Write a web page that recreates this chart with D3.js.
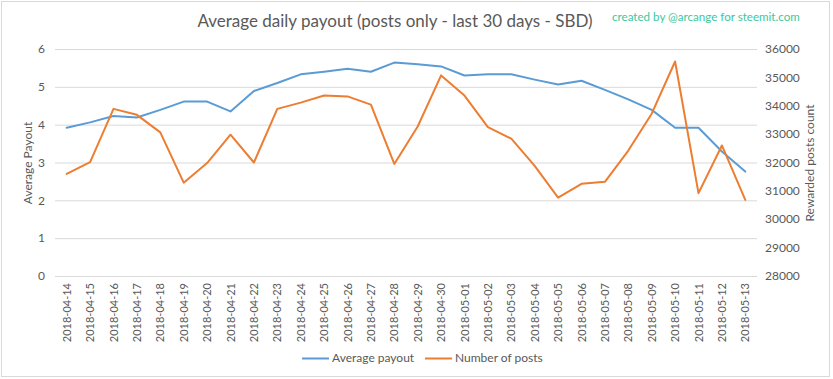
<!DOCTYPE html>
<html><head><meta charset="utf-8">
<script src="https://cdn.jsdelivr.net/npm/d3@7"></script>
<style>body{margin:0;background:#fff}svg{display:block}text{font-family:Lato,"Open Sans",sans-serif}</style>
</head><body>
<svg id="c" width="833" height="379"></svg>
<script>
const dates = ["2018-04-14","2018-04-15","2018-04-16","2018-04-17","2018-04-18","2018-04-19","2018-04-20","2018-04-21","2018-04-22","2018-04-23","2018-04-24","2018-04-25","2018-04-26","2018-04-27","2018-04-28","2018-04-29","2018-04-30","2018-05-01","2018-05-02","2018-05-03","2018-05-04","2018-05-05","2018-05-06","2018-05-07","2018-05-08","2018-05-09","2018-05-10","2018-05-11","2018-05-12","2018-05-13"];
const avgPayout = [3.92,4.06,4.23,4.19,4.39,4.61,4.61,4.35,4.89,5.10,5.33,5.40,5.48,5.40,5.64,5.60,5.54,5.30,5.33,5.33,5.19,5.06,5.16,4.92,4.67,4.39,3.92,3.92,3.29,2.76];
const numPosts = [31600,32010,33890,33680,33060,31290,31980,32980,32000,33890,34110,34360,34330,34040,31950,33270,35070,34360,33250,32840,31880,30760,31250,31320,32420,33720,35560,30920,32600,30680];
const leftTicks = [0,1,2,3,4,5,6];
const rightTicks = [28000,29000,30000,31000,32000,33000,34000,35000,36000];

const svg = d3.select("#c");
const gray = "#595959";
svg.append("rect").attr("x",1.5).attr("y",1.5).attr("width",828).attr("height",375).attr("fill","#fff").attr("stroke","#d9d9d9");

const x = d3.scaleBand().domain(dates).range([55,757]);
const yL = d3.scaleLinear().domain([0,6]).range([276,49]);
const yR = d3.scaleLinear().domain([28000,36000]).range([276,49]);

// gridlines
svg.append("g").selectAll("line").data(leftTicks).join("line")
  .attr("x1",55).attr("x2",757).attr("y1",d=>yL(d)+0.5).attr("y2",d=>yL(d)+0.5)
  .attr("stroke","#d9d9d9").attr("stroke-width",1);

// left axis labels
svg.append("g").selectAll("text").data(leftTicks).join("text")
  .attr("x",45).attr("y",d=>yL(d)).attr("dy","0.35em").attr("text-anchor","end")
  .attr("fill",gray).attr("font-size",12).text(d=>d);
// right axis labels
svg.append("g").selectAll("text").data(rightTicks).join("text")
  .attr("x",765).attr("y",d=>yR(d)).attr("dy","0.35em").attr("text-anchor","start")
  .attr("fill",gray).attr("font-size",12).text(d=>d);

// x labels
svg.append("g").selectAll("text").data(dates).join("text")
  .attr("transform",d=>`translate(${x(d)+x.bandwidth()/2+4},283) rotate(-90)`)
  .attr("text-anchor","end").attr("fill",gray).attr("font-size",11).text(d=>d);

// axis titles
svg.append("text").attr("transform","translate(32,163) rotate(-90)").attr("text-anchor","middle")
  .attr("fill",gray).attr("font-size",12).text("Average Payout");
svg.append("text").attr("transform","translate(814,163) rotate(-90)").attr("text-anchor","middle")
  .attr("fill",gray).attr("font-size",12).text("Rewarded posts  count");

// title
svg.append("text").attr("x",395).attr("y",27).attr("text-anchor","middle").attr("fill",gray)
  .attr("font-size",17).text("Average daily payout (posts only - last 30 days - SBD)");
svg.append("text").attr("x",612).attr("y",21).attr("text-anchor","start").attr("fill","#3cc8a0")
  .attr("font-size",11.6).text("created by @arcange for steemit.com");

const cx = d=>x(d)+x.bandwidth()/2;
svg.append("path").datum(avgPayout).attr("fill","none").attr("stroke","#5b9bd5").attr("stroke-width",2)
  .attr("stroke-linejoin","round").attr("stroke-linecap","round")
  .attr("d",d3.line().x((d,i)=>cx(dates[i])).y(d=>yL(d)));
svg.append("path").datum(numPosts).attr("fill","none").attr("stroke","#ed7d31").attr("stroke-width",2)
  .attr("stroke-linejoin","round").attr("stroke-linecap","round")
  .attr("d",d3.line().x((d,i)=>cx(dates[i])).y(d=>yR(d)));

// legend
const legend = [{name:"Average payout",color:"#5b9bd5",x:302},{name:"Number of posts",color:"#ed7d31",x:425}];
const lg = svg.append("g").selectAll("g").data(legend).join("g");
lg.append("line").attr("x1",d=>d.x).attr("x2",d=>d.x+27).attr("y1",358.5).attr("y2",358.5)
  .attr("stroke",d=>d.color).attr("stroke-width",2);
lg.append("text").attr("x",d=>d.x+30).attr("y",358).attr("dy","0.35em").attr("fill",gray)
  .attr("font-size",12).text(d=>d.name);
</script>
</body></html>
